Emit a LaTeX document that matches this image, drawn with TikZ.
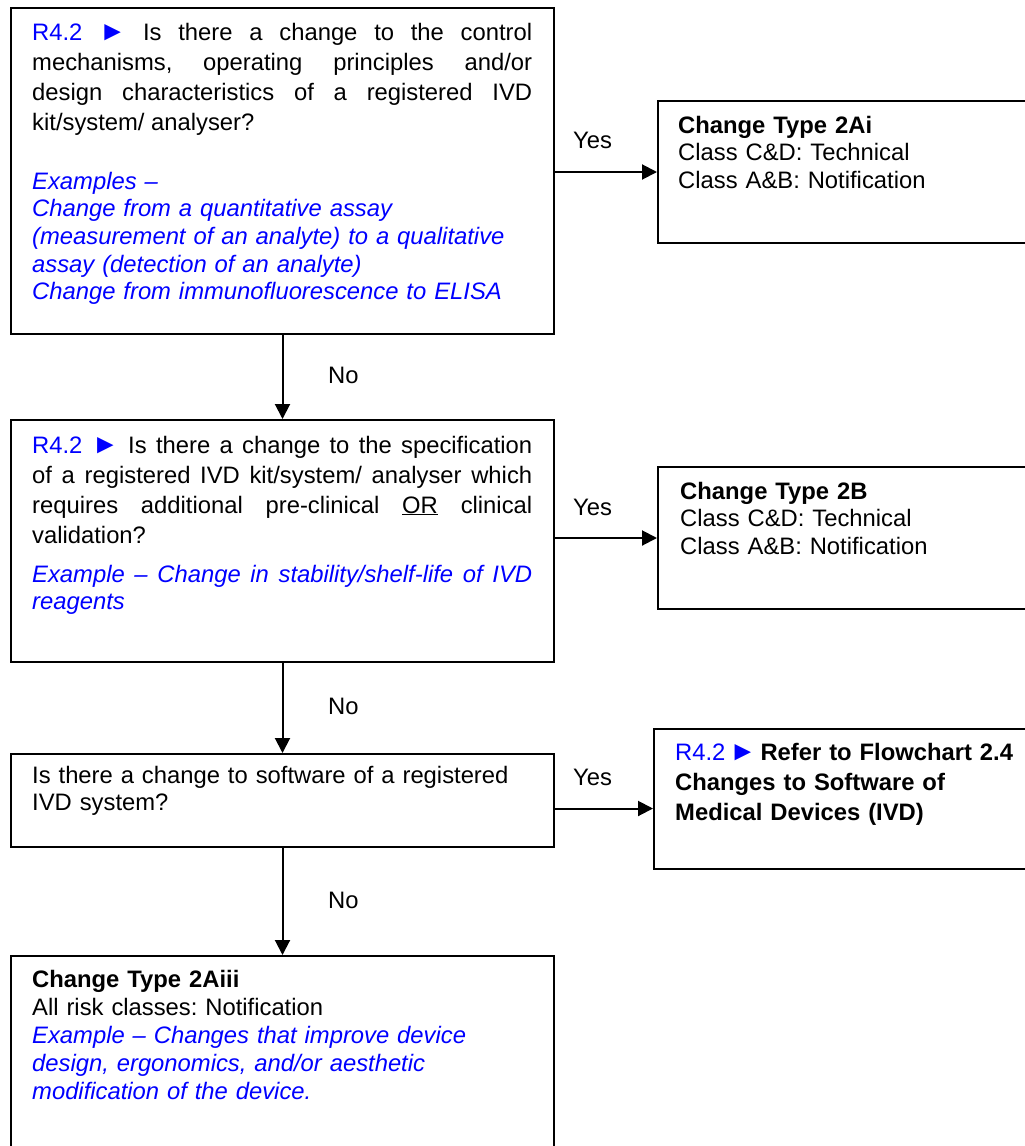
\documentclass[tikz,border=0pt]{standalone}
\usepackage{fontspec}
\setmainfont{Liberation Sans}
\usetikzlibrary{arrows.meta}
\hyphenpenalty=10000
\exhyphenpenalty=10000
\frenchspacing
\newcommand{\ptr}{\scalebox{1.15}{►}}
\begin{document}
\begin{tikzpicture}[x=1pt,y=-1pt,
  box/.style={draw, line width=2pt, anchor=north west, inner sep=0pt},
  txt/.style={anchor=base west, inner sep=0pt, align=left, text width=#1, font=\fontsize{23.8}{27.5}\selectfont},
  txt/.default=500pt,
  jtxt/.style={anchor=base west, inner sep=0pt, align=justify, text width=500pt, font=\fontsize{23.8}{30}\selectfont},
  ex/.style={text=blue, font=\fontsize{23.8}{27.7}\selectfont\itshape},
  arr/.style={line width=2pt, -{Triangle[length=15pt,width=15pt]}},
  lbl/.style={anchor=base west, inner sep=0pt, font=\fontsize{23.8}{27.5}\selectfont}]

\useasboundingbox (0,0) rectangle (1025,1146);
\clip (0,0) rectangle (1025,1146);

% boxes
\node[box, minimum width=543pt, minimum height=326pt] (b1) at (10,7) {};
\node[box, minimum width=500pt, minimum height=142pt] (b2) at (657,100) {};
\node[box, minimum width=543pt, minimum height=242pt] (b3) at (10,419) {};
\node[box, minimum width=500pt, minimum height=142pt] (b4) at (657,466) {};
\node[box, minimum width=543pt, minimum height=93pt] (b5) at (10,753) {};
\node[box, minimum width=500pt, minimum height=140pt] (b6) at (653,728) {};
\node[box, minimum width=543pt, minimum height=300pt] (b7) at (10,955) {};

% texts box 1
\node[jtxt] (t1) at (32,40) {{\color{blue}R4.2 \ptr} Is there a change to the control\linebreak mechanisms, operating principles and/or\linebreak design characteristics of a registered IVD\linebreak kit/system/ analyser?};
\node[txt, ex] (e1) at (32,189) {Examples –\\Change from a quantitative assay\\(measurement of an analyte) to a qualitative\\assay (detection of an analyte)\\Change from immunofluorescence to ELISA};

% box 2
\node[txt=340pt] (t2) at (678,133) {\textbf{Change Type 2Ai}\\Class C\&D: Technical\\Class A\&B: Notification};

% box 3
\node[jtxt] (t3) at (32,453) {{\color{blue}R4.2 \ptr} Is there a change to the specification\linebreak of a registered IVD kit/system/ analyser which\linebreak requires additional pre-clinical \underline{OR} clinical\linebreak validation?};
\node[jtxt, ex] (e3) at (32,582) {Example – Change in stability/shelf-life of IVD\linebreak reagents};

% box 4
\node[txt=340pt] (t4) at (680,499) {\textbf{Change Type 2B}\\Class C\&D: Technical\\Class A\&B: Notification};

% box 5
\node[txt] (t5) at (32,783) {Is there a change to software of a registered\\IVD system?};

% box 6
\node[txt=360pt, font=\fontsize{23.8}{30}\selectfont] (t6) at (675,760) {{\color{blue}R4.2\,\ptr}\,\textbf{Refer to Flowchart 2.4}\\\textbf{Changes to Software of}\\\textbf{Medical Devices (IVD)}};

% box 7
\node[txt, font=\fontsize{23.8}{28.2}\selectfont] (t7) at (32,987) {\textbf{Change Type 2Aiii}\\All risk classes: Notification\\{\color{blue}\itshape Example – Changes that improve device\\design, ergonomics, and/or aesthetic\\modification of the device.}};

% connectors
\draw[arr] (b2.west -| b1.east) -- (b2.west);
\draw[arr] (b1.south) -- (b3.north);
\draw[arr] (b4.west -| b3.east) -- (b4.west);
\draw[arr] (b3.south) -- (b5.north);
\coordinate (y3) at ([yshift=-8pt]b5.east);
\draw[arr] (y3) -- (y3 -| b6.west);
\draw[arr] (b5.south) -- (b7.north);

% labels
\node[lbl] (yes1) at (573,148) {Yes};
\node[lbl] (yes2) at (573,515) {Yes};
\node[lbl] (yes3) at (573,785) {Yes};
\node[lbl] (no1) at (328,383) {No};
\node[lbl] (no2) at (328,714) {No};
\node[lbl] (no3) at (328,908) {No};
\end{tikzpicture}
\end{document}
